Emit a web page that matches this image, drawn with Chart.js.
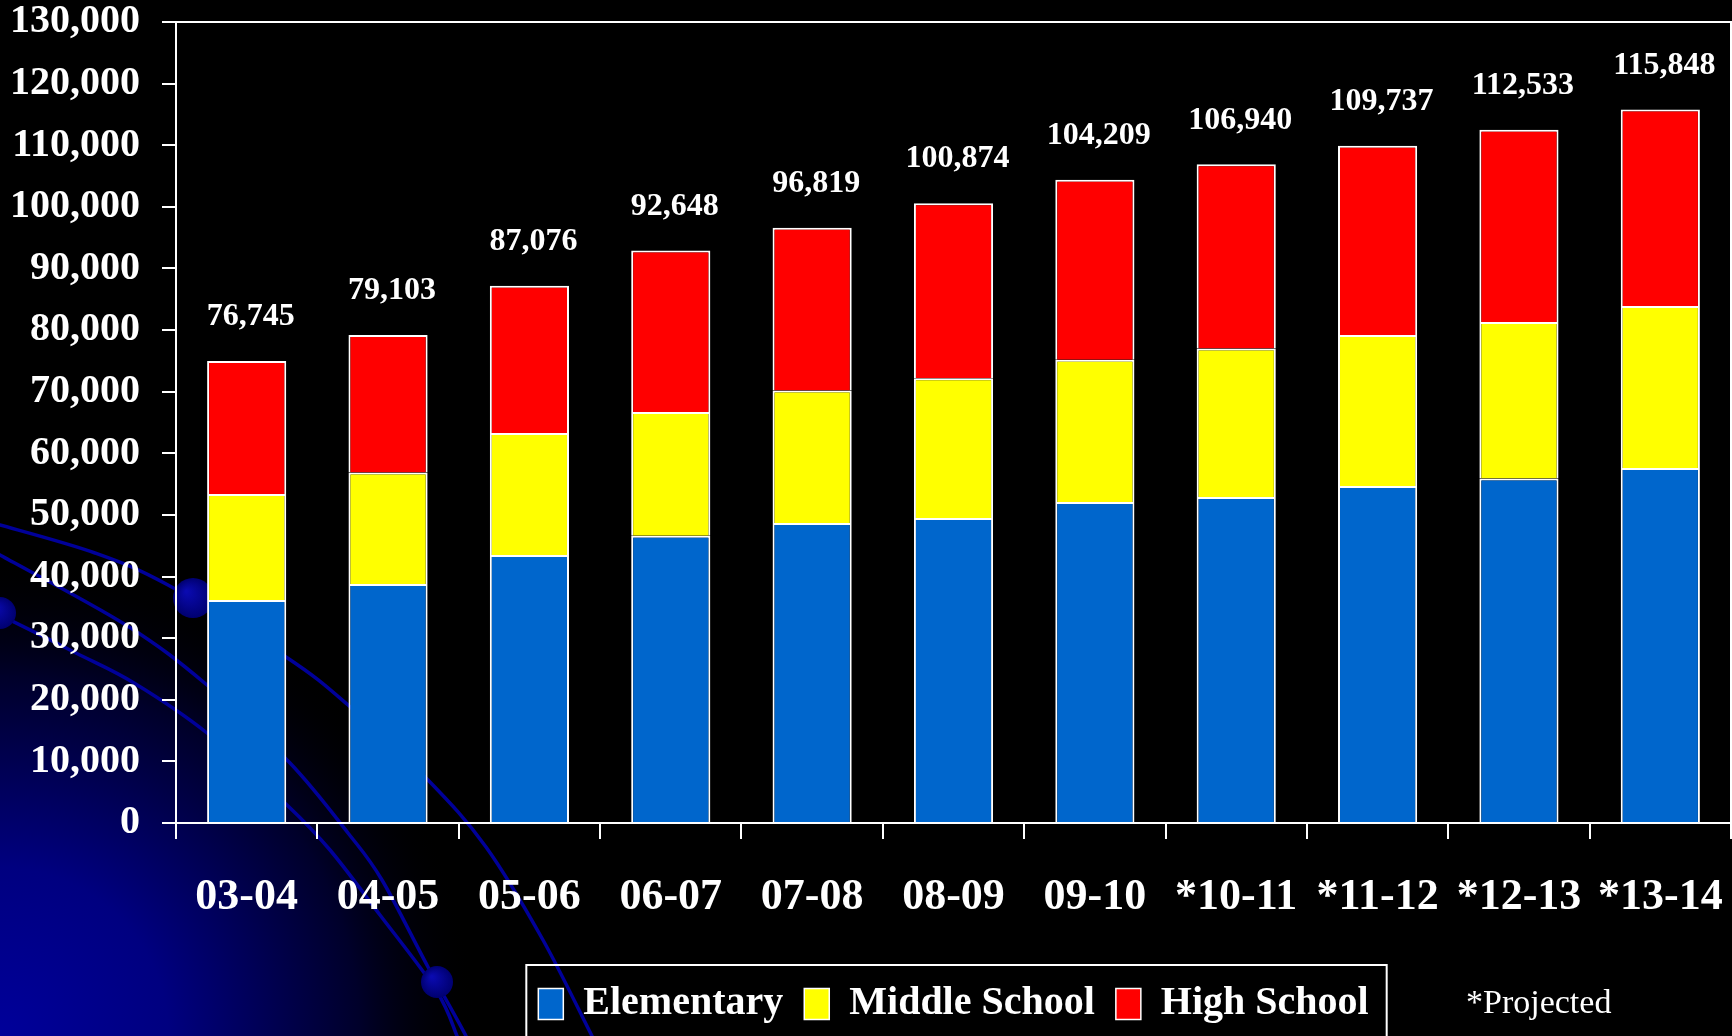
<!DOCTYPE html>
<html>
<head>
<meta charset="utf-8">
<script src="https://cdn.jsdelivr.net/npm/chart.js@4.4.1/dist/chart.umd.min.js"></script>
<style>
    html, body { margin: 0; padding: 0; background: #000; }
    #chart-wrap { position: relative; width: 1732px; height: 1036px; }
</style>
</head>
<body>
<div id="chart-wrap"><canvas id="enrollment-chart"></canvas></div>
<script>
// School years (an asterisk marks projected years)
const years = ['03-04', '04-05', '05-06', '06-07', '07-08', '08-09', '09-10', '*10-11', '*11-12', '*12-13', '*13-14'];

// Enrollment per level
const elementary   = [36200, 38800, 43500, 46600, 48700, 49500, 52100, 52900, 54700, 55900, 57600];
const middleSchool = [17200, 18100, 19800, 20100, 21500, 22700, 23100, 24100, 24500, 25400, 26300];
const highSchool   = [21600, 22300, 23900, 26200, 26400, 28400, 29200, 29900, 30700, 31200, 31900];

// Totals printed above each bar
const totals = [76745, 79103, 87076, 92648, 96819, 100874, 104209, 106940, 109737, 112533, 115848];

// Value axis
const yMin = 0;
const yMax = 130000;
const yStep = 10000;

const SERIF = "'Liberation Serif', 'Times New Roman', serif";

/** Smooth curve through a list of points (Catmull-Rom -> bezier) */
function smoothPath(ctx, pts) {
    ctx.moveTo(pts[0][0], pts[0][1]);
    for (let i = 0; i < pts.length - 1; i++) {
        const p0 = pts[i - 1] || pts[i];
        const p1 = pts[i];
        const p2 = pts[i + 1];
        const p3 = pts[i + 2] || p2;
        ctx.bezierCurveTo(
            p1[0] + (p2[0] - p0[0]) / 6, p1[1] + (p2[1] - p0[1]) / 6,
            p2[0] - (p3[0] - p1[0]) / 6, p2[1] - (p3[1] - p1[1]) / 6,
            p2[0], p2[1]
        );
    }
}

// Slide background: black with a navy glow in the lower left and a few arcs
const slideBackground = {
    id: 'slideBackground',
    beforeDraw(chart) {
        const { ctx, width, height } = chart;
        ctx.save();
        ctx.fillStyle = '#000';
        ctx.fillRect(0, 0, width, height);

        const glow = ctx.createRadialGradient(0, height, 0, 0, height, 480);
        glow.addColorStop(0, '#00009a');
        glow.addColorStop(0.35, '#000080');
        glow.addColorStop(0.75, '#00002a');
        glow.addColorStop(1, 'rgba(0,0,0,0)');
        ctx.fillStyle = glow;
        ctx.fillRect(0, 0, width, height);

        const arcs = [
            [[-20, 520], [0, 525], [95, 553], [168, 585], [286, 657], [348, 705], [428, 780], [486, 847], [543, 940], [592, 1036], [610, 1070]],
            [[-20, 544], [0, 555], [126, 625], [207, 685], [290, 763], [348, 833], [382, 880], [428, 967], [466, 1036], [475, 1060]],
            [[-20, 606], [0, 615], [76, 653], [134, 683], [207, 733], [287, 805], [330, 850], [380, 915], [436, 990], [457, 1036], [465, 1060]]
        ];
        ctx.strokeStyle = '#000099';
        ctx.lineWidth = 3.5;
        arcs.forEach(pts => {
            ctx.beginPath();
            smoothPath(ctx, pts);
            ctx.stroke();
        });

        [[193, 598, 20], [0, 613, 16], [437, 982, 16]].forEach(([x, y, r]) => {
            const g = ctx.createRadialGradient(x - r / 3, y - r / 3, 1, x, y, r);
            g.addColorStop(0, '#0a0ab0');
            g.addColorStop(1, '#000070');
            ctx.fillStyle = g;
            ctx.beginPath();
            ctx.arc(x, y, r, 0, Math.PI * 2);
            ctx.fill();
        });
        ctx.restore();
    }
};

// Total enrollment above each stacked bar
const totalLabels = {
    id: 'totalLabels',
    afterDatasetsDraw(chart) {
        const { ctx } = chart;
        const topMeta = chart.getDatasetMeta(chart.data.datasets.length - 1);
        ctx.save();
        ctx.fillStyle = '#fff';
        ctx.font = `bold 32px ${SERIF}`;
        ctx.textAlign = 'center';
        ctx.textBaseline = 'middle';
        topMeta.data.forEach((bar, i) => {
            ctx.fillText(totals[i].toLocaleString('en-US'), bar.x + 4, bar.y - 44);
        });
        ctx.restore();
    }
};

// Frame on top/right of the plot, a box round the legend and the footnote
const frameAndNotes = {
    id: 'frameAndNotes',
    afterDraw(chart) {
        const { ctx, chartArea } = chart;
        ctx.save();
        ctx.strokeStyle = '#fff';
        ctx.lineWidth = 2;
        ctx.beginPath();
        ctx.moveTo(chartArea.left, chartArea.top);
        ctx.lineTo(chartArea.right, chartArea.top);
        ctx.lineTo(chartArea.right, chartArea.bottom);
        ctx.stroke();

        const boxes = chart.legend.legendHitBoxes;
        if (boxes && boxes.length) {
            const first = boxes[0];
            const last = boxes[boxes.length - 1];
            const left = first.left - 12;
            const right = last.left + last.width + 18;
            ctx.strokeRect(left, chart.legend.top + 2, right - left, 120);
        }

        ctx.fillStyle = '#fff';
        ctx.font = `34px ${SERIF}`;
        ctx.textAlign = 'left';
        ctx.textBaseline = 'alphabetic';
        ctx.fillText('*Projected', 1466, 1013);
        ctx.restore();
    }
};

const ctx = document.getElementById('enrollment-chart').getContext('2d');
new Chart(ctx, {
    type: 'bar',
    data: {
        labels: years,
        datasets: [{
            label: 'Elementary',
            data: elementary,
            backgroundColor: '#0066CC'
        }, {
            label: 'Middle School',
            data: middleSchool,
            backgroundColor: '#FFFF00'
        }, {
            label: 'High School',
            data: highSchool,
            backgroundColor: '#FF0000'
        }].map(ds => Object.assign(ds, {
            borderColor: '#fff',
            borderWidth: { top: 2, left: 2, right: 2, bottom: 0 },
            borderSkipped: false,
            categoryPercentage: 1,
            barPercentage: 0.56
        }))
    },
    options: {
        responsive: true,
        maintainAspectRatio: false,
        animation: false,
        layout: {
            padding: { top: 22, right: 1, bottom: 2, left: 0 }
        },
        scales: {
            x: {
                stacked: true,
                grid: {
                    offset: true,
                    drawOnChartArea: false,
                    color: '#fff',
                    lineWidth: 2,
                    tickLength: 16
                },
                border: { color: '#fff', width: 2 },
                ticks: {
                    color: '#fff',
                    padding: 0,
                    maxRotation: 0,
                    autoSkip: false,
                    // tall line box pushes the labels down without padding the plot sides
                    font: { family: SERIF, size: 44, weight: 'bold', lineHeight: '117px' }
                },
                afterFit(scale) { scale.height = 140; }
            },
            y: {
                stacked: true,
                min: yMin,
                max: yMax,
                grid: {
                    drawOnChartArea: false,
                    color: '#fff',
                    lineWidth: 2,
                    tickLength: 14
                },
                border: { color: '#fff', width: 2 },
                ticks: {
                    stepSize: yStep,
                    color: '#fff',
                    padding: 22,
                    font: { family: SERIF, size: 40, weight: 'bold', lineHeight: 0 },
                    callback: value => value.toLocaleString('en-US')
                },
                afterFit(scale) { scale.width = 176; }
            }
        },
        plugins: {
            legend: {
                display: true,
                position: 'bottom',
                fullSize: false,
                labels: {
                    color: '#fff',
                    boxWidth: 25,
                    boxHeight: 31,
                    padding: 21,
                    font: { family: SERIF, size: 40, weight: 'bold' }
                }
            },
            tooltip: { enabled: false },
            title: { display: false }
        }
    },
    plugins: [slideBackground, totalLabels, frameAndNotes]
});
</script>
</body>
</html>
